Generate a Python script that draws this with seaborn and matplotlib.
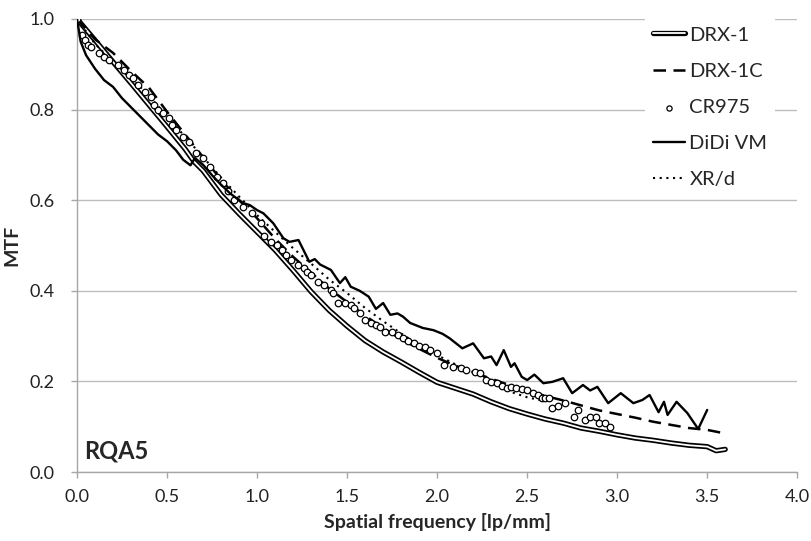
import numpy as np
import pandas as pd
import matplotlib
matplotlib.use('Agg')
import matplotlib.pyplot as plt
import matplotlib.patheffects as pe
import seaborn as sns

# MTF curves, RQA5 beam quality
drx1_f = [0.0, 0.1, 0.2, 0.3, 0.4, 0.5, 0.6, 0.65, 0.7, 0.8, 0.9, 1.0, 1.1, 1.2, 1.3, 1.4, 1.5,
          1.6, 1.7, 1.8, 1.9, 2.0, 2.1, 2.2, 2.3, 2.4, 2.5, 2.6, 2.7, 2.8, 2.9, 3.0, 3.1, 3.2,
          3.3, 3.4, 3.5, 3.55, 3.6]
drx1_mtf = [1.0, 0.953, 0.905, 0.858, 0.81, 0.762, 0.713, 0.685, 0.665, 0.612, 0.57, 0.53, 0.49,
            0.445, 0.398, 0.357, 0.322, 0.29, 0.265, 0.243, 0.22, 0.198, 0.185, 0.172, 0.155, 0.14,
            0.128, 0.117, 0.108, 0.097, 0.09, 0.082, 0.075, 0.07, 0.064, 0.059, 0.056, 0.047, 0.05]

drx1c_f = [0.0, 0.1, 0.2, 0.3, 0.4, 0.5, 0.6, 0.7, 0.8, 0.9, 1.0, 1.1, 1.2, 1.3, 1.4, 1.5, 1.6,
           1.7, 1.8, 1.9, 2.0, 2.1, 2.2, 2.3, 2.4, 2.5, 2.6, 2.7, 2.8, 2.9, 3.0, 3.1, 3.2, 3.3,
           3.4, 3.5, 3.6]
drx1c_mtf = [1.0, 0.955, 0.925, 0.885, 0.848, 0.795, 0.745, 0.695, 0.645, 0.6, 0.56, 0.515, 0.475,
             0.44, 0.405, 0.375, 0.345, 0.318, 0.293, 0.272, 0.252, 0.235, 0.22, 0.206, 0.192,
             0.18, 0.168, 0.158, 0.147, 0.136, 0.128, 0.12, 0.111, 0.104, 0.097, 0.093, 0.085]

cr975_f = [0.0, 0.026, 0.044, 0.063, 0.08, 0.12, 0.15, 0.18, 0.23, 0.26, 0.29, 0.31, 0.34, 0.38,
           0.41, 0.43, 0.45, 0.48, 0.51, 0.53, 0.55, 0.59, 0.62, 0.66, 0.70, 0.74, 0.78, 0.81,
           0.84, 0.87, 0.92, 0.97, 1.02, 1.04, 1.08, 1.11, 1.14, 1.16, 1.19, 1.23, 1.26, 1.28,
           1.30, 1.34, 1.37, 1.41, 1.42, 1.45, 1.49, 1.52, 1.54, 1.57, 1.60, 1.63, 1.66, 1.68,
           1.71, 1.75, 1.78, 1.81, 1.84, 1.87, 1.90, 1.93, 1.96, 2.00, 2.04, 2.09, 2.13, 2.16,
           2.21, 2.24, 2.27, 2.30, 2.33, 2.36, 2.39, 2.41, 2.44, 2.47, 2.50, 2.53, 2.56, 2.58,
           2.60, 2.62, 2.64, 2.67, 2.71, 2.76, 2.78, 2.82, 2.85, 2.88, 2.90, 2.93, 2.96]
cr975_mtf = [1.0, 0.965, 0.954, 0.943, 0.939, 0.925, 0.917, 0.909, 0.898, 0.887, 0.876, 0.87,
             0.854, 0.839, 0.828, 0.81, 0.8, 0.792, 0.781, 0.766, 0.755, 0.74, 0.728, 0.704,
             0.693, 0.673, 0.651, 0.638, 0.62, 0.6, 0.585, 0.572, 0.55, 0.52, 0.508, 0.50, 0.49,
             0.479, 0.468, 0.457, 0.45, 0.441, 0.435, 0.42, 0.413, 0.402, 0.395, 0.373, 0.373,
             0.369, 0.362, 0.351, 0.336, 0.329, 0.325, 0.32, 0.309, 0.309, 0.302, 0.295, 0.29,
             0.285, 0.278, 0.275, 0.269, 0.262, 0.236, 0.232, 0.229, 0.225, 0.221, 0.219, 0.203,
             0.199, 0.196, 0.19, 0.185, 0.188, 0.185, 0.183, 0.181, 0.174, 0.17, 0.163, 0.163,
             0.163, 0.141, 0.146, 0.152, 0.121, 0.137, 0.115, 0.121, 0.121, 0.108, 0.108, 0.10]

didi_f = [0.0, 0.02, 0.05, 0.1, 0.15, 0.2, 0.25, 0.3, 0.35, 0.4, 0.45, 0.5, 0.55, 0.59, 0.63,
          0.655, 0.7, 0.75, 0.79, 0.85, 0.92, 0.96, 1.0, 1.035, 1.09, 1.146, 1.18, 1.23, 1.29,
          1.32, 1.35, 1.41, 1.46, 1.49, 1.52, 1.57, 1.62, 1.66, 1.70, 1.74, 1.78, 1.81, 1.85,
          1.92, 1.98, 2.03, 2.07, 2.14, 2.2, 2.26, 2.3, 2.33, 2.37, 2.41, 2.43, 2.47, 2.5, 2.54,
          2.59, 2.64, 2.70, 2.75, 2.81, 2.85, 2.89, 2.95, 3.02, 3.09, 3.14, 3.18, 3.23, 3.26,
          3.28, 3.33, 3.39, 3.45, 3.5]
didi_mtf = [1.0, 0.95, 0.92, 0.89, 0.865, 0.85, 0.825, 0.805, 0.785, 0.765, 0.745, 0.73, 0.71,
            0.689, 0.677, 0.693, 0.678, 0.655, 0.638, 0.615, 0.594, 0.589, 0.578, 0.571, 0.549,
            0.516, 0.508, 0.512, 0.464, 0.47, 0.458, 0.446, 0.417, 0.43, 0.409, 0.4, 0.387,
            0.36, 0.373, 0.347, 0.35, 0.343, 0.329, 0.318, 0.313, 0.305, 0.295, 0.273, 0.284,
            0.251, 0.255, 0.236, 0.269, 0.232, 0.24, 0.21, 0.203, 0.215, 0.196, 0.199, 0.207,
            0.174, 0.192, 0.18, 0.188, 0.152, 0.174, 0.152, 0.159, 0.17, 0.132, 0.155, 0.126,
            0.155, 0.13, 0.095, 0.137]

xrd_f = [0.0, 0.1, 0.2, 0.3, 0.4, 0.5, 0.6, 0.7, 0.8, 0.9, 1.0, 1.1, 1.2, 1.3, 1.4, 1.5, 1.6,
         1.7, 1.8, 1.9, 2.0, 2.1, 2.2, 2.3, 2.4, 2.5, 2.58]
xrd_mtf = [1.0, 0.945, 0.905, 0.87, 0.83, 0.785, 0.74, 0.695, 0.65, 0.608, 0.567, 0.53, 0.494,
           0.46, 0.425, 0.395, 0.362, 0.333, 0.306, 0.28, 0.258, 0.238, 0.22, 0.203, 0.178,
           0.165, 0.158]

sns.set_style('white')
plt.rcParams['font.family'] = ['Lato', 'DejaVu Sans']

fig = plt.figure(figsize=(8.11, 5.41), dpi=100)
ax = fig.add_axes([0.095, 0.1275, 0.888, 0.8375])

double_line = [pe.Stroke(linewidth=3.8, foreground='black'), pe.Normal()]
sns.lineplot(x=drx1_f, y=drx1_mtf, ax=ax, color='white', linewidth=1.3,
             path_effects=double_line, label='DRX-1', zorder=3)
sns.lineplot(x=drx1c_f, y=drx1c_mtf, ax=ax, color='black', linewidth=1.8,
             linestyle=(0, (5, 3)), label='DRX-1C', zorder=3)
sns.scatterplot(x=cr975_f, y=cr975_mtf, ax=ax, marker='o', s=22, facecolor='white',
                edgecolor='black', linewidth=0.9, label='CR975', zorder=4)
sns.lineplot(x=didi_f, y=didi_mtf, ax=ax, color='black', linewidth=1.7,
             label='DiDi VM', zorder=5)
sns.lineplot(x=xrd_f, y=xrd_mtf, ax=ax, color='black', linewidth=1.5,
             linestyle=(0, (1, 2.2)), label='XR/d', zorder=3)

ax.set_xlim(0, 4.0)
ax.set_ylim(0, 1.0)
ax.set_xticks(np.arange(0, 4.01, 0.5))
ax.set_yticks(np.arange(0, 1.01, 0.2))
ax.xaxis.set_major_formatter(matplotlib.ticker.FormatStrFormatter('%.1f'))
ax.yaxis.set_major_formatter(matplotlib.ticker.FormatStrFormatter('%.1f'))
ax.grid(axis='y', color='#bdbdbd', linewidth=1.0)
ax.grid(axis='x', visible=False)
for side in ['top', 'right']:
    ax.spines[side].set_visible(False)
for side in ['left', 'bottom']:
    ax.spines[side].set_color('#a6a6a6')
    ax.spines[side].set_linewidth(1.0)
ax.tick_params(axis='both', direction='out', length=4, width=1.0, color='#a6a6a6',
               labelsize=13, labelcolor='#222222')
ax.tick_params(axis='y', pad=12, left=True)
ax.tick_params(axis='x', pad=8, bottom=True)

ax.set_xlabel('Spatial frequency [lp/mm]', fontsize=14, fontweight='bold', labelpad=6)
ax.set_ylabel('MTF', fontsize=14, fontweight='bold')
ax.yaxis.set_label_coords(-0.078, 0.5)
ax.text(0.01, 0.02, 'RQA5', transform=ax.transAxes, fontsize=17, fontweight='bold',
        ha='left', va='bottom')

leg = ax.legend(loc='upper left', bbox_to_anchor=(645 / 811, 0.966),
                bbox_transform=fig.transFigure, fontsize=14.5, frameon=True,
                facecolor='white', edgecolor='none', framealpha=1.0, fancybox=False,
                handlelength=1.6, handletextpad=0.2, labelspacing=0.95, borderpad=0.4,
                borderaxespad=0, scatterpoints=1, markerscale=0.8)
leg.set_zorder(10)

fig.savefig('out.png', dpi=100)
